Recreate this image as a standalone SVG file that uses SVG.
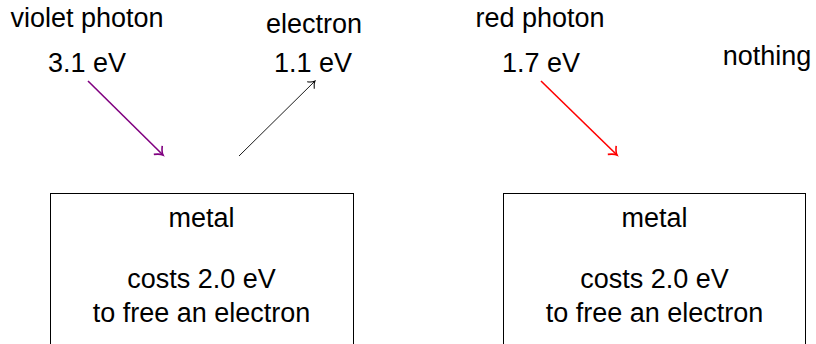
<svg xmlns="http://www.w3.org/2000/svg" width="816" height="344" viewBox="0 0 816 344">
<defs>
<style>
text{font-family:"Liberation Sans",Arial,sans-serif;font-size:27px;fill:#000;text-anchor:middle}
.box{fill:none;stroke:#000;stroke-width:1}
.conn{fill:none;stroke-width:1.6}
.thin{stroke-width:0.9}
</style>
<marker id="ahV" markerWidth="14" markerHeight="14" refX="9" refY="7" orient="auto" markerUnits="userSpaceOnUse"><path d="M2,1 Q6,6 9,7 Q6,8 2,13" fill="none" stroke="#800080" stroke-width="1.6"/></marker>
<marker id="ahK" markerWidth="14" markerHeight="14" refX="9" refY="7" orient="auto" markerUnits="userSpaceOnUse"><path d="M3,2 Q6,6 9,7 Q6,8 3,12" fill="none" stroke="#000" stroke-width="1"/></marker>
<marker id="ahR" markerWidth="14" markerHeight="14" refX="9" refY="7" orient="auto" markerUnits="userSpaceOnUse"><path d="M2,1 Q6,6 9,7 Q6,8 2,13" fill="none" stroke="#ff0000" stroke-width="1.6"/></marker>
</defs>
<g id="violet">
<text x="87" y="27">violet photon</text>
<text x="87" y="72">3.1 eV</text>
</g>
<g id="electron">
<text x="314" y="33">electron</text>
<text x="313" y="72">1.1 eV</text>
</g>
<g id="red">
<text x="540" y="27">red photon</text>
<text x="541" y="72">1.7 eV</text>
</g>
<g id="nothing">
<text x="767" y="65">nothing</text>
</g>
<g id="metal1">
<rect class="box" x="50.5" y="193.5" width="303" height="170"/>
<text x="201.5" y="227">metal</text>
<text x="201.5" y="288">costs 2.0 eV</text>
<text x="201.5" y="322">to free an electron</text>
</g>
<g id="metal2">
<rect class="box" x="503.5" y="193.5" width="302" height="170"/>
<text x="654.5" y="227">metal</text>
<text x="654.5" y="288">costs 2.0 eV</text>
<text x="654.5" y="322">to free an electron</text>
</g>
<g id="connectors">
<line class="conn" x1="88" y1="81" x2="163" y2="155" stroke="#800080" marker-end="url(#ahV)"/>
<line class="conn thin" x1="239" y1="156" x2="315" y2="81" stroke="#000" marker-end="url(#ahK)"/>
<line class="conn" x1="541" y1="81" x2="617" y2="155" stroke="#ff0000" marker-end="url(#ahR)"/>
</g>
</svg>
